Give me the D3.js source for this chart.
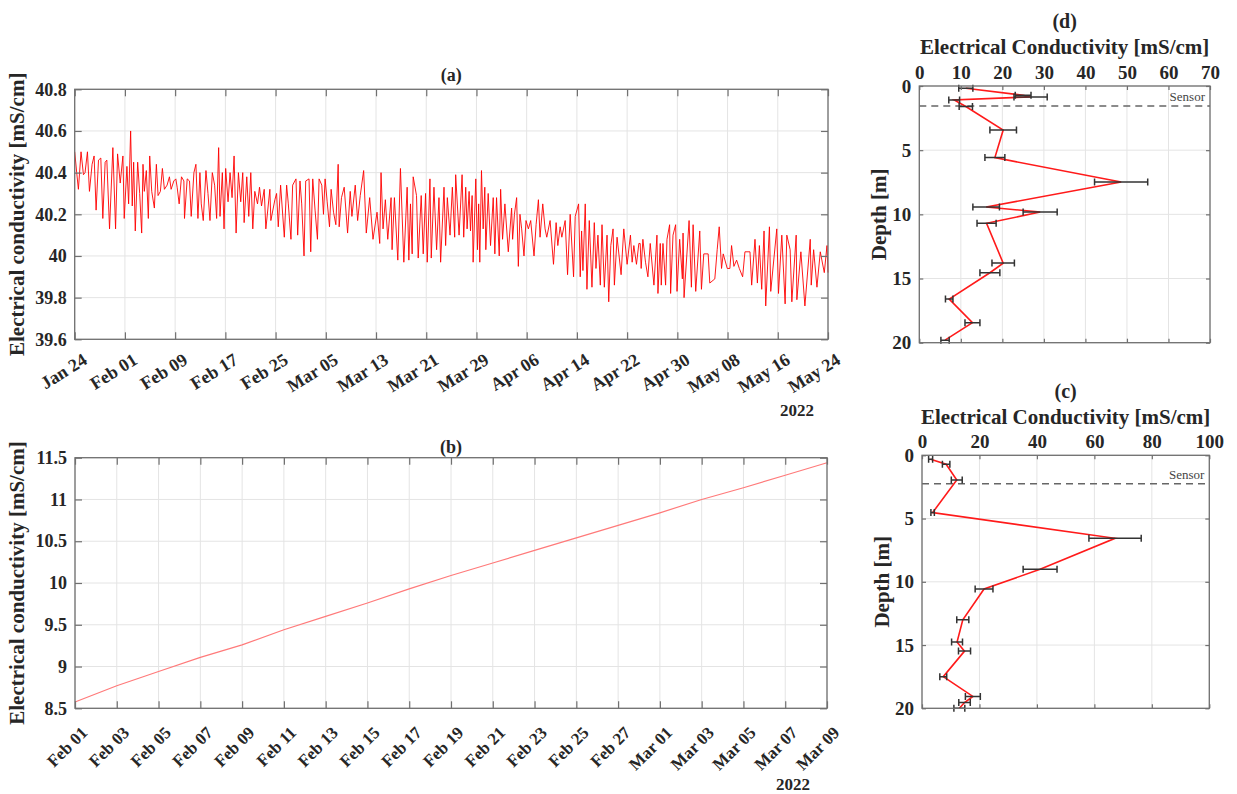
<!DOCTYPE html>
<html><head><meta charset="utf-8">
<script src="https://cdn.jsdelivr.net/npm/d3@7"></script>
<style>
body{margin:0;background:#fff}
svg text{font-family:"Liberation Serif","Times New Roman",serif;font-weight:bold;fill:#262626}
</style>
</head><body>
<svg id="c" width="1237" height="794"></svg>
<script>
// ================= DATA =================
// (a) Electrical conductivity time series, day offset from Jan 24 2022
const aStart = "Jan 24 2022";
const aDay = [0.00,0.32,0.59,1.01,1.39,1.65,2.03,2.35,2.77,3.09,3.41,3.79,4.16,4.48,4.85,5.12,5.55,6.08,6.51,6.83,7.25,7.68,7.89,8.32,8.59,8.91,9.17,9.39,9.65,10.03,10.35,10.67,10.88,11.09,11.41,11.73,11.95,12.27,12.69,13.01,13.28,13.65,13.97,14.29,14.72,15.09,15.36,15.79,16.11,16.32,16.64,17.01,17.39,17.49,17.92,18.29,18.56,18.99,19.31,19.63,19.95,20.16,20.48,20.91,21.23,21.55,21.92,22.29,22.61,22.93,23.15,23.52,23.79,24.05,24.43,24.75,25.07,25.39,25.71,26.08,26.45,26.77,26.99,27.41,27.73,28.05,28.37,28.69,29.12,29.44,29.76,30.19,30.45,
31.09,31.25,31.89,32.16,32.43,32.80,33.39,33.76,34.03,34.45,34.72,35.25,35.52,35.89,36.16,36.53,36.80,37.33,37.60,37.92,38.29,38.67,38.93,39.36,39.63,39.89,40.22,40.59,40.85,41.23,41.60,41.97,42.13,42.50,42.93,43.47,43.89,44.16,44.69,45.07,45.49,46.03,46.45,46.99,47.52,48.16,48.59,48.80,49.12,49.49,49.87,50.40,50.56,50.93,51.47,51.89,52.43,52.96,53.23,53.49,53.76,53.92,54.45,54.72,55.20,55.52,55.89,56.16,56.59,56.80,57.23,57.65,58.03,58.29,58.83,59.09,59.36,59.79,60.16,60.53,
60.69,61.23,61.71,61.97,62.29,62.51,62.83,63.05,63.31,63.47,63.89,64.16,64.35,64.53,64.80,65.07,65.33,65.49,65.87,66.24,66.67,66.93,67.20,67.63,67.85,68.16,68.53,69.07,69.60,69.76,70.05,70.40,70.67,70.93,71.20,71.57,71.89,72.27,72.64,73.17,73.50,73.87,74.13,74.56,74.93,75.20,75.73,76.27,76.69,76.96,77.33,77.60,78.13,78.51,78.93,79.47,79.73,80.27,80.53,80.75,80.96,81.33,81.60,81.97,82.40,82.77,83.04,83.35,83.73,84.00,84.37,84.80,85.07,85.40,85.76,85.97,86.40,87.04,87.47,88.00,88.53,88.80,89.07,89.49,89.87,
90.08,90.24,90.51,90.93,91.31,91.68,92.27,92.75,92.91,93.28,93.44,93.71,94.13,94.35,94.77,94.93,95.31,95.73,95.95,96.37,96.80,96.91,97.07,97.87,98.24,98.51,98.93,99.57,99.84,100.21,100.91,101.17,101.97,102.35,102.67,103.04,103.31,103.95,104.37,104.64,105.01,105.44,105.87,106.40,106.77,107.57,107.84,108.37,108.75,109.07,109.44,109.81,110.08,110.67,110.88,111.84,112.11,112.64,113.17,113.44,113.97,114.24,114.93,115.04,115.68,116.32,117.17,117.33,117.71,118.24,118.77,119.41,119.84,120.00];
const aEC = [40.50,40.40,40.32,40.50,40.39,40.40,40.50,40.31,40.44,40.48,40.22,40.46,40.47,40.18,40.45,40.46,40.13,40.52,40.13,40.49,40.35,40.48,40.18,40.43,40.25,40.60,40.24,40.45,40.12,40.45,40.30,40.11,40.44,40.31,40.41,40.18,40.48,40.31,40.23,40.44,40.29,40.31,40.42,40.32,40.34,40.38,40.32,40.36,40.37,40.33,40.25,40.38,40.36,40.18,40.37,40.36,40.19,40.40,40.44,40.18,40.40,40.25,40.17,40.41,40.30,40.17,40.40,40.34,40.18,40.52,40.19,40.40,40.13,40.42,40.26,40.40,40.28,40.48,40.11,40.40,40.26,40.40,40.16,40.38,40.19,40.40,40.13,40.31,40.25,40.33,40.24,40.32,40.13,
40.32,40.17,40.27,40.30,40.14,40.34,40.09,40.34,40.25,40.08,40.34,40.37,40.10,40.36,40.25,40.00,40.36,40.37,40.02,40.37,40.22,40.08,40.37,40.34,40.20,40.37,40.26,40.14,40.32,40.21,40.15,40.44,40.14,40.28,40.33,40.11,40.31,40.19,40.34,40.17,40.29,40.41,40.11,40.28,40.08,40.21,40.06,40.40,40.13,40.27,40.08,40.28,40.03,40.28,39.98,40.42,39.97,40.33,39.98,40.25,40.01,40.38,40.29,39.99,40.29,40.01,40.30,39.97,40.37,39.99,40.33,40.03,40.28,39.97,40.33,40.05,40.28,40.10,40.33,40.09,
40.39,40.10,40.39,40.09,40.33,40.13,40.31,40.12,40.29,39.97,40.37,40.03,40.25,39.97,40.41,40.13,40.33,40.03,40.30,40.05,40.28,40.01,40.28,40.00,40.32,40.08,40.25,40.02,40.23,40.08,40.20,40.28,39.95,40.20,40.13,40.00,40.17,40.13,40.17,40.00,40.15,40.27,40.09,40.25,40.13,40.09,40.17,39.96,40.16,40.05,40.14,40.09,40.17,39.91,40.20,39.90,40.19,40.25,39.90,40.12,39.93,40.25,39.84,40.17,39.85,40.16,39.94,40.10,39.86,40.15,39.85,40.10,39.78,40.05,40.13,39.86,40.09,39.91,40.13,39.96,40.10,39.97,40.05,39.96,40.06,
40.06,39.94,40.08,39.97,39.90,40.06,39.86,40.10,39.82,40.06,39.86,40.06,39.86,40.08,40.15,39.82,40.10,40.15,39.83,40.08,39.89,40.11,39.80,40.17,39.85,40.15,39.83,40.12,39.84,40.01,40.01,39.87,39.89,40.03,40.14,39.94,40.01,39.94,39.94,40.05,39.95,39.98,39.94,39.90,40.02,40.02,39.86,40.08,39.87,40.05,39.84,40.12,39.76,40.14,39.83,40.13,39.82,40.10,39.77,40.10,40.03,39.78,40.10,39.79,40.02,39.76,40.08,39.86,40.03,39.85,40.02,39.92,40.05,39.92];
const aTickLabels = ["Jan 24","Feb 01","Feb 09","Feb 17","Feb 25","Mar 05","Mar 13","Mar 21","Mar 29","Apr 06","Apr 14","Apr 22","Apr 30","May 08","May 16","May 24"];
const aYTicks = [39.6,39.8,40,40.2,40.4,40.6,40.8];

// (b) Electrical conductivity, day offset from Feb 01 2022
const bStart = "Feb 01 2022";
const bDay = [0,2,4,6,8,10,12,14,16,18,20,22,24,26,28,30,32,34,36];
const bEC  = [8.575,8.77,8.94,9.11,9.26,9.44,9.60,9.76,9.93,10.09,10.24,10.39,10.54,10.69,10.84,11.00,11.14,11.29,11.44];
const bTickLabels = ["Feb 01","Feb 03","Feb 05","Feb 07","Feb 09","Feb 11","Feb 13","Feb 15","Feb 17","Feb 19","Feb 21","Feb 23","Feb 25","Feb 27","Mar 01","Mar 03","Mar 05","Mar 07","Mar 09"];
const bYTicks = [8.5,9,9.5,10,10.5,11,11.5];

// (d) profile
const dDepth = [0.18,0.72,0.85,1.09,1.60,3.43,5.58,7.48,9.43,9.82,10.70,13.80,14.55,16.60,18.44,19.80];
const dEC    = [11.2,25.0,26.8,8.4,11.2,20.2,18.2,48.6,16.1,29.1,16.2,20.2,17.0,7.2,12.8,6.2];
const dErr   = [1.7,1.9,4.0,1.3,1.6,3.2,2.4,6.4,3.2,4.1,2.3,2.7,2.4,0.9,1.8,1.0];
const dXTicks = [0,10,20,30,40,50,60,70];
const dSensor = 1.56;

// (c) profile
const cDepth = [0.32,0.71,1.95,4.53,6.56,9.01,10.57,13.00,14.76,15.48,17.50,19.06,19.54,20.00];
const cEC    = [3.0,8.4,12.1,3.7,67.2,41.1,21.6,14.2,12.2,14.8,7.4,17.7,14.8,13.0];
const cErr   = [0.7,1.3,1.9,0.6,9.1,5.9,3.1,2.1,1.9,2.1,1.2,2.6,2.0,1.9];
const cXTicks = [0,20,40,60,80,100];
const cSensor = 2.24;

const depthTicks = [0,5,10,15,20];

// ================= DRAW =================
const svg = d3.select("#c");
const GRID = "#e4e4e4", BOX = "#707070";
const parse = d3.utcParse("%b %d %Y");
const DAY = 86400000;

function frame(g, x, y, xt, yt, box){
  const [x0,x1,y0,y1] = box;
  g.append("g").selectAll("line").data(xt).join("line")
    .attr("x1",d=>x(d)).attr("x2",d=>x(d)).attr("y1",y0).attr("y2",y1)
    .attr("stroke",GRID).attr("stroke-width",1);
  g.append("g").selectAll("line").data(yt).join("line")
    .attr("y1",d=>y(d)).attr("y2",d=>y(d)).attr("x1",x0).attr("x2",x1)
    .attr("stroke",GRID).attr("stroke-width",1);
}
function box(g, b, x, y, xt, yt, tl, opts){
  const [x0,x1,y0,y1] = b;
  const clean = s => s.call(a=>a.select(".domain").remove()).attr("color",BOX)
      .call(a=>a.selectAll("line").attr("stroke-width",1.2));
  g.append("g").attr("transform",`translate(0,${y1})`)
    .call(d3.axisBottom(x).tickValues(xt).tickSize(-tl).tickFormat("")).call(clean);
  g.append("g").attr("transform",`translate(0,${y0})`)
    .call(d3.axisTop(x).tickValues(xt).tickSize(-tl).tickFormat(opts.topLabels?opts.xfmt:"").tickPadding(7)).call(clean)
    .selectAll("text").style("font-size",opts.fs+"px");
  g.append("g").attr("transform",`translate(${x0},0)`)
    .call(d3.axisLeft(y).tickValues(yt).tickSize(-tl).tickFormat(d=>String(d)).tickPadding(8)).call(clean)
    .selectAll("text").style("font-size",opts.fs+"px");
  g.append("g").attr("transform",`translate(${x1},0)`)
    .call(d3.axisRight(y).tickValues(yt).tickSize(-tl).tickFormat("")).call(clean);
  g.append("rect").attr("x",x0).attr("y",y0).attr("width",x1-x0).attr("height",y1-y0)
    .attr("fill","none").attr("stroke",BOX).attr("stroke-width",1.3);
}

function timePanel(cfg){
  const [x0,x1,y0,y1] = cfg.box;
  const start = parse(cfg.start);
  const ticks = cfg.tickLabels.map(l=>parse(l+" 2022"));
  const x = d3.scaleUtc().domain([ticks[0],ticks[ticks.length-1]]).range([x0,x1]);
  const y = d3.scaleLinear().domain([cfg.yt[0],cfg.yt[cfg.yt.length-1]]).range([y1,y0]);
  const g = svg.append("g");
  frame(g,x,y,ticks,cfg.yt,cfg.box);
  const pts = cfg.day.map((d,i)=>({t:new Date(+start + d*DAY), v:cfg.val[i]}));
  g.append("path").datum(pts)
    .attr("d",d3.line().x(d=>x(d.t)).y(d=>y(d.v)))
    .attr("fill","none").attr("stroke",cfg.color).attr("stroke-width",cfg.lw).attr("stroke-linejoin","round");
  box(g,cfg.box,x,y,ticks,cfg.yt,7,{fs:18});
  g.append("g").selectAll("text").data(ticks).join("text")
    .attr("transform",d=>`translate(${x(d)+cfg.lx},${y1+cfg.ly}) rotate(${cfg.rot})`)
    .attr("text-anchor","end").attr("dy","0.7em").style("font-size",cfg.xfs+"px")
    .text((d,i)=>cfg.tickLabels[i]);
  g.append("text").attr("x",cfg.yearX).attr("y",cfg.yearY).attr("text-anchor","middle")
    .style("font-size","17px").text("2022");
  g.append("text").attr("x",(x0+x1)/2).attr("y",cfg.titleY).attr("text-anchor","middle")
    .style("font-size","18px").text(cfg.title);
  g.append("text").attr("transform",`translate(${cfg.ylabX},${(y0+y1)/2}) rotate(-90)`)
    .attr("text-anchor","middle").style("font-size","21px").text("Electrical conductivity [mS/cm]");
}

function profilePanel(cfg){
  const [x0,x1,y0,y1] = cfg.box;
  const x = d3.scaleLinear().domain([cfg.xt[0],cfg.xt[cfg.xt.length-1]]).range([x0,x1]);
  const y = d3.scaleLinear().domain([0,20]).range([y0,y1]);
  const g = svg.append("g");
  frame(g,x,y,cfg.xt,depthTicks,cfg.box);
  g.append("line").attr("x1",x0).attr("x2",x1).attr("y1",y(cfg.sensor)).attr("y2",y(cfg.sensor))
    .attr("stroke","#666").attr("stroke-width",1.5).attr("stroke-dasharray","7,5");
  g.append("text").attr("x",x1-5).attr("y",y(cfg.sensor)-5).attr("text-anchor","end")
    .style("font-size","13px").style("font-weight","normal").style("fill","#444").text("Sensor");
  const pts = cfg.depth.map((d,i)=>({d, v:cfg.val[i], e:cfg.err[i]}));
  g.append("path").datum(pts).attr("d",d3.line().x(p=>x(p.v)).y(p=>y(p.d)))
    .attr("fill","none").attr("stroke","#ff1a1a").attr("stroke-width",1.6);
  const eb = g.append("g").attr("stroke","#333").attr("stroke-width",1.5).attr("fill","none");
  eb.selectAll("path").data(pts).join("path")
    .attr("d",p=>{const a=x(p.v-p.e), b=x(p.v+p.e), c=y(p.d);
      return `M${a},${c}H${b}M${a},${c-3.5}V${c+3.5}M${b},${c-3.5}V${c+3.5}`;});
  box(g,cfg.box,x,y,cfg.xt,depthTicks,4,{fs:19,topLabels:true,xfmt:d=>String(d)});
  g.append("text").attr("x",(x0+x1)/2).attr("y",cfg.xlabY).attr("text-anchor","middle")
    .style("font-size","21px").text("Electrical Conductivity [mS/cm]");
  g.append("text").attr("x",(x0+x1)/2).attr("y",cfg.titleY).attr("text-anchor","middle")
    .style("font-size","20px").text(cfg.title);
  g.append("text").attr("transform",`translate(${cfg.ylabX},${(y0+y1)/2}) rotate(-90)`)
    .attr("text-anchor","middle").style("font-size","21px").text("Depth [m]");
}

timePanel({box:[74.7,828,89.3,339.3], start:aStart, day:aDay, val:aEC, tickLabels:aTickLabels,
  yt:aYTicks, color:"#ff0000", lw:0.9, rot:-32, lx:7, ly:13, xfs:18, yearX:797, yearY:416, titleY:81, title:"(a)", ylabX:24});
timePanel({box:[75,827,457.7,708.3], start:bStart, day:bDay, val:bEC, tickLabels:bTickLabels,
  yt:bYTicks, color:"#ff7a7a", lw:1.2, rot:-45, lx:5, ly:17, xfs:17, yearX:793, yearY:790, titleY:453, title:"(b)", ylabX:24});
profilePanel({box:[919.3,1210,86,342.7], xt:dXTicks, depth:dDepth, val:dEC, err:dErr, sensor:dSensor,
  xlabY:54, titleY:28, title:"(d)", ylabX:886});
profilePanel({box:[922,1209.3,455.3,708.3], xt:cXTicks, depth:cDepth, val:cEC, err:cErr, sensor:cSensor,
  xlabY:424, titleY:398, title:"(c)", ylabX:889});
</script>
</body></html>
